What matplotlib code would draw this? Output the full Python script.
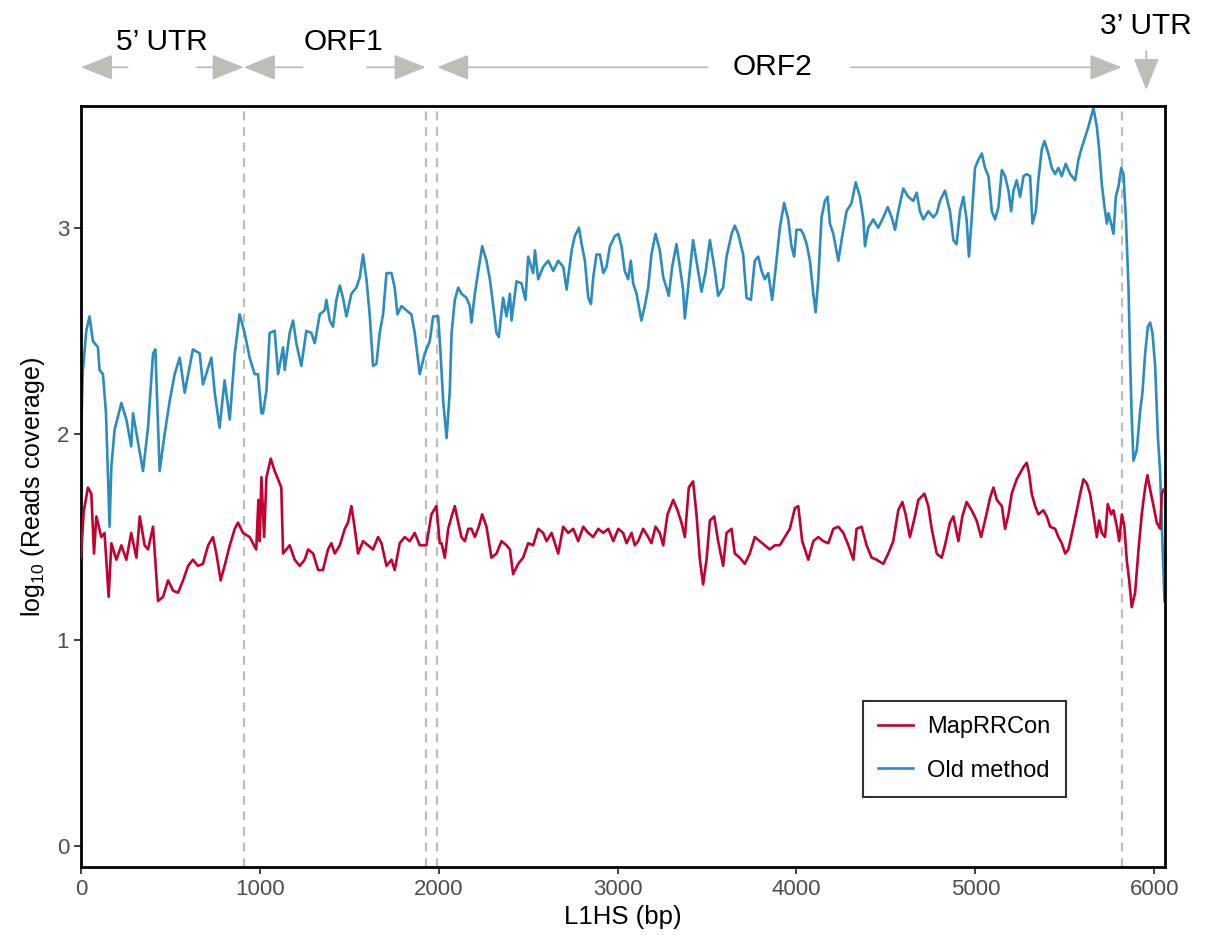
import matplotlib
matplotlib.use("Agg")
import matplotlib.pyplot as plt

# coverage lungo L1HS (log10), letto a mano dal grafico originale
pos_old = [0, 10, 30, 48, 67, 95, 104, 123, 140, 160, 170, 188, 226, 254, 281, 291, 319, 347,
           375, 403, 416, 440, 468, 496, 524, 552, 580, 626, 664, 682, 729, 748, 775, 803,
           832, 860, 887, 915, 943, 971, 990, 1009, 1018, 1037, 1055, 1083, 1102, 1130, 1139,
           1167, 1186, 1204, 1232, 1260, 1288, 1307, 1335, 1363, 1372, 1391, 1409, 1428, 1447,
           1465, 1484, 1512, 1540, 1559, 1577, 1596, 1614, 1633, 1652, 1670, 1689, 1708, 1736,
           1754, 1769, 1792, 1819, 1847, 1866, 1894, 1922, 1950, 1969, 1997, 2011, 2025, 2044,
           2062, 2072, 2090, 2109, 2127, 2155, 2174, 2183, 2202, 2221, 2243, 2267, 2286, 2305,
           2323, 2336, 2360, 2379, 2398, 2407, 2435, 2463, 2485, 2500, 2528, 2538, 2556, 2584,
           2612, 2640, 2668, 2696, 2715, 2743, 2761, 2784, 2799, 2817, 2836, 2851, 2864, 2882,
           2901, 2920, 2938, 2957, 2985, 3004, 3022, 3040, 3059, 3074, 3087, 3106, 3133, 3152,
           3171, 3189, 3212, 3236, 3255, 3273, 3286, 3305, 3329, 3348, 3366, 3376, 3394, 3422,
           3450, 3469, 3491, 3516, 3544, 3562, 3590, 3609, 3637, 3655, 3674, 3702, 3721, 3745,
           3767, 3786, 3805, 3823, 3842, 3864, 3888, 3907, 3931, 3954, 3972, 3987, 4000, 4024,
           4038, 4057, 4075, 4094, 4107, 4122, 4140, 4159, 4174, 4187, 4206, 4234, 4252, 4280,
           4308, 4331, 4355, 4374, 4383, 4401, 4429, 4457, 4485, 4510, 4532, 4551, 4569, 4597,
           4625, 4653, 4672, 4690, 4709, 4737, 4765, 4784, 4802, 4830, 4858, 4877, 4895, 4914,
           4933, 4951, 4964, 4979, 4998, 5017, 5036, 5054, 5073, 5092, 5110, 5129, 5148, 5166,
           5185, 5200, 5213, 5231, 5250, 5269, 5287, 5306, 5319, 5338, 5352, 5371, 5386, 5408,
           5427, 5446, 5464, 5483, 5505, 5530, 5558, 5576, 5595, 5614, 5632, 5651, 5660, 5679,
           5692, 5707, 5722, 5735, 5744, 5759, 5772, 5785, 5800, 5815, 5828, 5841, 5856, 5865,
           5874, 5884, 5902, 5921, 5934, 5949, 5964, 5977, 5990, 6005, 6020, 6033, 6046, 6057]
cov_old = [1.95, 2.30, 2.50, 2.57, 2.45, 2.42, 2.31, 2.29, 2.10, 1.55, 1.84, 2.02, 2.15, 2.07,
           1.94, 2.10, 1.96, 1.82, 2.03, 2.39, 2.41, 1.82, 2.00, 2.16, 2.29, 2.37, 2.20, 2.41,
           2.39, 2.24, 2.37, 2.20, 2.03, 2.26, 2.07, 2.39, 2.58, 2.49, 2.37, 2.29, 2.29, 2.10,
           2.10, 2.21, 2.49, 2.50, 2.29, 2.42, 2.31, 2.49, 2.55, 2.44, 2.33, 2.50, 2.49, 2.44,
           2.58, 2.60, 2.65, 2.55, 2.52, 2.65, 2.72, 2.66, 2.57, 2.68, 2.71, 2.76, 2.87, 2.75,
           2.58, 2.33, 2.34, 2.49, 2.58, 2.78, 2.78, 2.71, 2.58, 2.62, 2.60, 2.58, 2.49, 2.29,
           2.39, 2.45, 2.57, 2.57, 2.38, 2.16, 1.98, 2.21, 2.49, 2.65, 2.71, 2.68, 2.66, 2.62,
           2.54, 2.68, 2.79, 2.91, 2.84, 2.75, 2.62, 2.49, 2.47, 2.66, 2.57, 2.68, 2.55, 2.74,
           2.73, 2.65, 2.86, 2.78, 2.89, 2.75, 2.81, 2.84, 2.79, 2.84, 2.81, 2.70, 2.89, 2.96,
           3.00, 2.92, 2.84, 2.66, 2.63, 2.76, 2.87, 2.87, 2.78, 2.81, 2.91, 2.96, 2.97, 2.91,
           2.79, 2.75, 2.84, 2.73, 2.68, 2.55, 2.62, 2.71, 2.87, 2.97, 2.89, 2.76, 2.71, 2.67,
           2.81, 2.92, 2.81, 2.70, 2.56, 2.71, 2.94, 2.79, 2.69, 2.78, 2.94, 2.79, 2.67, 2.71,
           2.86, 2.97, 3.01, 2.97, 2.87, 2.66, 2.65, 2.84, 2.86, 2.79, 2.75, 2.78, 2.65, 2.84,
           3.00, 3.12, 3.04, 2.91, 2.86, 2.99, 2.99, 2.97, 2.92, 2.84, 2.68, 2.59, 2.75, 3.05,
           3.13, 3.15, 3.02, 2.97, 2.84, 2.94, 3.08, 3.12, 3.22, 3.15, 3.04, 2.91, 3.00, 3.04,
           3.00, 3.05, 3.10, 3.05, 2.99, 3.08, 3.19, 3.15, 3.13, 3.17, 3.08, 3.04, 3.08, 3.05,
           3.07, 3.13, 3.18, 3.08, 2.94, 2.92, 3.08, 3.15, 3.04, 2.86, 3.04, 3.29, 3.33, 3.36,
           3.29, 3.25, 3.08, 3.04, 3.10, 3.28, 3.25, 3.18, 3.08, 3.18, 3.23, 3.15, 3.25, 3.26,
           3.25, 3.02, 3.08, 3.23, 3.38, 3.42, 3.36, 3.29, 3.26, 3.29, 3.25, 3.31, 3.26, 3.23,
           3.33, 3.39, 3.44, 3.49, 3.55, 3.58, 3.49, 3.38, 3.21, 3.10, 3.02, 3.07, 3.02, 2.97,
           3.15, 3.20, 3.29, 3.26, 3.05, 2.71, 2.36, 2.08, 1.87, 1.92, 2.11, 2.20, 2.39, 2.52,
           2.54, 2.49, 2.33, 1.99, 1.81, 1.46, 1.19]

pos_map = [0, 15, 39, 58, 73, 86, 114, 132, 155, 170, 198, 226, 254, 281, 310, 329, 356, 375,
           403, 431, 459, 487, 515, 543, 571, 599, 626, 654, 682, 711, 738, 757, 781, 803, 832,
           860, 878, 906, 943, 980, 992, 999, 1009, 1024, 1037, 1061, 1083, 1102, 1120, 1130,
           1167, 1195, 1223, 1251, 1270, 1298, 1326, 1353, 1381, 1400, 1419, 1447, 1475, 1493,
           1512, 1531, 1549, 1577, 1605, 1633, 1661, 1680, 1708, 1736, 1754, 1782, 1810, 1838,
           1866, 1894, 1931, 1959, 1987, 2006, 2016, 2034, 2053, 2072, 2090, 2109, 2127, 2146,
           2165, 2183, 2202, 2224, 2243, 2267, 2295, 2323, 2351, 2379, 2398, 2416, 2444, 2472,
           2500, 2528, 2556, 2584, 2603, 2631, 2668, 2696, 2724, 2752, 2780, 2808, 2836, 2864,
           2892, 2920, 2948, 2976, 3004, 3031, 3050, 3078, 3096, 3115, 3143, 3171, 3189, 3212,
           3236, 3255, 3279, 3311, 3335, 3357, 3376, 3398, 3422, 3441, 3460, 3478, 3497, 3516,
           3540, 3562, 3590, 3609, 3637, 3655, 3683, 3711, 3739, 3767, 3795, 3823, 3851, 3879,
           3907, 3935, 3963, 3991, 4010, 4032, 4066, 4094, 4122, 4150, 4178, 4206, 4234, 4262,
           4290, 4318, 4336, 4364, 4392, 4420, 4448, 4485, 4513, 4541, 4569, 4592, 4610, 4634,
           4662, 4681, 4715, 4737, 4756, 4784, 4812, 4830, 4858, 4877, 4905, 4927, 4951, 4979,
           5007, 5032, 5054, 5082, 5101, 5120, 5148, 5166, 5185, 5203, 5231, 5250, 5269, 5287,
           5300, 5315, 5334, 5352, 5380, 5399, 5418, 5446, 5464, 5483, 5502, 5520, 5548, 5567,
           5586, 5604, 5623, 5641, 5660, 5679, 5692, 5707, 5725, 5740, 5759, 5772, 5791, 5804,
           5819, 5833, 5846, 5860, 5874, 5893, 5912, 5930, 5949, 5962, 5977, 5996, 6014, 6033,
           6042, 6052]
cov_map = [1.40, 1.62, 1.74, 1.71, 1.42, 1.60, 1.50, 1.52, 1.21, 1.47, 1.39, 1.46, 1.39, 1.52,
           1.40, 1.60, 1.46, 1.44, 1.55, 1.19, 1.21, 1.29, 1.24, 1.23, 1.29, 1.36, 1.39, 1.36,
           1.37, 1.46, 1.50, 1.42, 1.29, 1.36, 1.46, 1.54, 1.57, 1.52, 1.50, 1.44, 1.68, 1.48,
           1.79, 1.50, 1.79, 1.88, 1.82, 1.78, 1.74, 1.42, 1.46, 1.39, 1.36, 1.39, 1.44, 1.42,
           1.34, 1.34, 1.44, 1.47, 1.42, 1.46, 1.54, 1.57, 1.65, 1.54, 1.42, 1.48, 1.46, 1.44,
           1.50, 1.47, 1.36, 1.39, 1.34, 1.47, 1.50, 1.48, 1.52, 1.46, 1.46, 1.61, 1.65, 1.47,
           1.47, 1.40, 1.54, 1.60, 1.65, 1.57, 1.50, 1.48, 1.54, 1.54, 1.50, 1.55, 1.61, 1.55,
           1.40, 1.42, 1.48, 1.46, 1.44, 1.32, 1.37, 1.40, 1.47, 1.46, 1.54, 1.52, 1.48, 1.52,
           1.42, 1.55, 1.52, 1.54, 1.48, 1.55, 1.52, 1.50, 1.54, 1.52, 1.54, 1.48, 1.54, 1.52,
           1.47, 1.52, 1.46, 1.48, 1.54, 1.50, 1.47, 1.55, 1.52, 1.46, 1.61, 1.68, 1.63, 1.57,
           1.50, 1.74, 1.77, 1.61, 1.39, 1.27, 1.39, 1.58, 1.60, 1.48, 1.36, 1.52, 1.54, 1.42,
           1.40, 1.37, 1.42, 1.50, 1.48, 1.46, 1.44, 1.46, 1.46, 1.50, 1.54, 1.64, 1.65, 1.48,
           1.39, 1.48, 1.50, 1.48, 1.47, 1.54, 1.55, 1.52, 1.46, 1.39, 1.54, 1.55, 1.46, 1.40,
           1.39, 1.37, 1.42, 1.48, 1.63, 1.67, 1.61, 1.50, 1.60, 1.68, 1.71, 1.65, 1.54, 1.42,
           1.40, 1.46, 1.57, 1.60, 1.48, 1.60, 1.67, 1.63, 1.58, 1.50, 1.58, 1.69, 1.74, 1.68,
           1.65, 1.54, 1.61, 1.71, 1.78, 1.81, 1.84, 1.86, 1.81, 1.71, 1.65, 1.61, 1.63, 1.60,
           1.55, 1.54, 1.50, 1.47, 1.42, 1.44, 1.55, 1.63, 1.71, 1.78, 1.76, 1.71, 1.61, 1.50,
           1.58, 1.52, 1.50, 1.66, 1.61, 1.63, 1.55, 1.48, 1.61, 1.55, 1.39, 1.29, 1.16, 1.23,
           1.44, 1.61, 1.74, 1.80, 1.73, 1.65, 1.57, 1.54, 1.71, 1.73]

# regioni di L1HS (bp)
regioni = ["5\u2019 UTR", "ORF1", "ORF2", "3\u2019 UTR"]
inizio = [0, 910, 1991, 5817]
fine = [910, 1927, 5817, 6064]
confini = [910, 1927, 1991, 5817]

ROSSO = "#C4002F"
BLU = "#2B8CBE"
GRIGIO = "#BEBEB8"

plt.rcParams["font.family"] = ["Liberation Sans", "DejaVu Sans"]
plt.rcParams["mathtext.fontset"] = "custom"
plt.rcParams["mathtext.rm"] = "Liberation Sans"

fig = plt.figure(figsize=(12.08, 9.47), dpi=100)
ax = fig.add_axes([0.067, 0.0845, 0.8974, 0.8035])

for x in confini:
    ax.axvline(x, color="#BDBDBD", lw=1.6, dashes=(4, 3), zorder=1)

ax.plot(pos_map, cov_map, color=ROSSO, lw=1.9, label="MapRRCon", zorder=3)
ax.plot(pos_old, cov_old, color=BLU, lw=1.9, label="Old method", zorder=2)

ax.set_xlim(0, 6060)
ax.set_ylim(-0.1, 3.59)
ax.set_xticks([0, 1000, 2000, 3000, 4000, 5000, 6000])
ax.set_yticks([0, 1, 2, 3])
ax.tick_params(labelsize=16, labelcolor="#4D4D4D", color="#333333", length=5, width=1.3)
for s in ax.spines.values():
    s.set_linewidth(2)
ax.set_xlabel("L1HS (bp)", fontsize=18.5, labelpad=4)
ax.set_ylabel(r"$\mathregular{log_{10}}$ (Reads coverage)", fontsize=18, labelpad=7)

leg = ax.legend(loc="lower left", bbox_to_anchor=(0.721, 0.092), fontsize=17,
                frameon=True, fancybox=False, edgecolor="black", handlelength=1.5,
                handletextpad=0.6, labelspacing=0.9, borderpad=0.65, borderaxespad=0)
leg.get_frame().set_linewidth(1.5)

# annotazioni delle regioni sopra il grafico
tr = ax.get_xaxis_transform()
freccia = dict(arrowstyle="-|>,head_length=2.0,head_width=0.8", color=GRIGIO, lw=1.3,
               shrinkA=0, shrinkB=0)
y_fr = 1.051
semi_gap = {"5\u2019 UTR": 195, "ORF1": 180, "ORF2": 400}
sposta_testo = {"5\u2019 UTR": 0, "ORF1": 50, "ORF2": -40}
for nome, a, b in zip(regioni[:3], inizio[:3], fine[:3]):
    c = (a + b) / 2
    g = semi_gap[nome]
    ax.annotate("", xy=(a, y_fr), xytext=(c - g, y_fr), xycoords=tr, textcoords=tr,
                arrowprops=freccia, annotation_clip=False)
    ax.annotate("", xy=(b, y_fr), xytext=(c + g, y_fr), xycoords=tr, textcoords=tr,
                arrowprops=freccia, annotation_clip=False)
    y_t = y_fr if nome == "ORF2" else 1.084
    ax.text(c + sposta_testo[nome], y_t, nome, transform=tr, ha="center",
            va="center", fontsize=21.5, clip_on=False)

c3 = (inizio[3] + fine[3]) / 2 + 15
ax.annotate("", xy=(c3, 1.021), xytext=(c3, 1.072), xycoords=tr, textcoords=tr,
            arrowprops=freccia, annotation_clip=False)
ax.text(c3, 1.105, regioni[3], transform=tr, ha="center", va="center", fontsize=21.5,
        clip_on=False)

fig.savefig("out.png", dpi=100)
